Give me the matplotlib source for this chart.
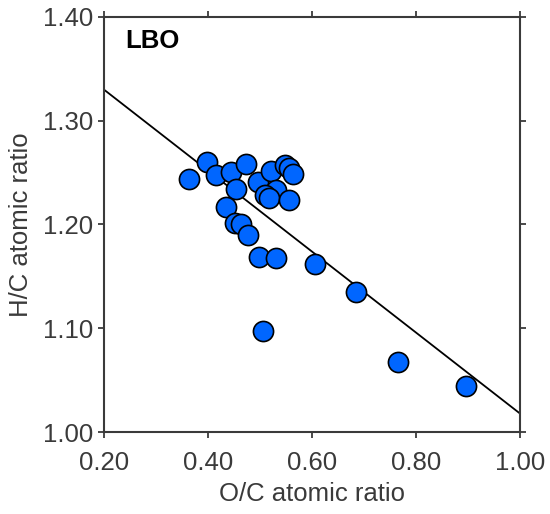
import numpy as np
import matplotlib
matplotlib.use('Agg')
import matplotlib.pyplot as plt

# O/C and H/C atomic ratios (LBO)
oc = [0.364, 0.399, 0.415, 0.444, 0.474, 0.455, 0.497, 0.522, 0.549, 0.556,
      0.564, 0.531, 0.510, 0.518, 0.556, 0.434, 0.452, 0.463, 0.478, 0.499,
      0.531, 0.607, 0.684, 0.766, 0.896, 0.506]
hc = [1.244, 1.260, 1.248, 1.251, 1.258, 1.234, 1.241, 1.252, 1.257, 1.254,
      1.249, 1.233, 1.228, 1.226, 1.224, 1.217, 1.201, 1.200, 1.190, 1.169,
      1.168, 1.162, 1.135, 1.067, 1.044, 1.097]

# fitted line
fit_slope = -0.39
fit_intercept = 1.408

xticks = [0.2, 0.4, 0.6, 0.8, 1.0]
yticks = [1.0, 1.1, 1.2, 1.3, 1.4]

plt.rcParams['font.family'] = ['Liberation Sans', 'DejaVu Sans']

fig = plt.figure(figsize=(5.5, 5.14), dpi=100)
ax = fig.add_axes([0.189, 0.1595, 0.756, 0.8075])

xl = np.array([0.2, 1.0])
ax.plot(xl, fit_intercept + fit_slope * xl, color='black', lw=1.3, zorder=2)
ax.plot(oc, hc, 'o', ms=14.5, mfc='#0066ff', mec='black', mew=1.2, zorder=3)

ax.set_xlim(0.2, 1.0)
ax.set_ylim(1.0, 1.4)
ax.set_xticks(xticks)
ax.set_yticks(yticks)
ax.set_xticklabels(['%.2f' % v for v in xticks])
ax.set_yticklabels(['%.2f' % v for v in yticks])

gray = '#3a3a3a'
for s in ax.spines.values():
    s.set_color(gray)
    s.set_linewidth(1.5)
ax.tick_params(direction='out', length=4, width=1.3, color=gray,
               labelsize=18.5, labelcolor=gray, top=True, right=True, pad=4)
ax.tick_params(axis='x', pad=10)

ax.set_xlabel('O/C atomic ratio', fontsize=18.5, color=gray, labelpad=5)
ax.set_ylabel('H/C atomic ratio', fontsize=18.5, color=gray, labelpad=7)

ax.text(0.052, 0.972, 'LBO', transform=ax.transAxes, fontsize=18.5,
        fontweight='bold', va='top', ha='left')

fig.savefig('out.png', dpi=100)
